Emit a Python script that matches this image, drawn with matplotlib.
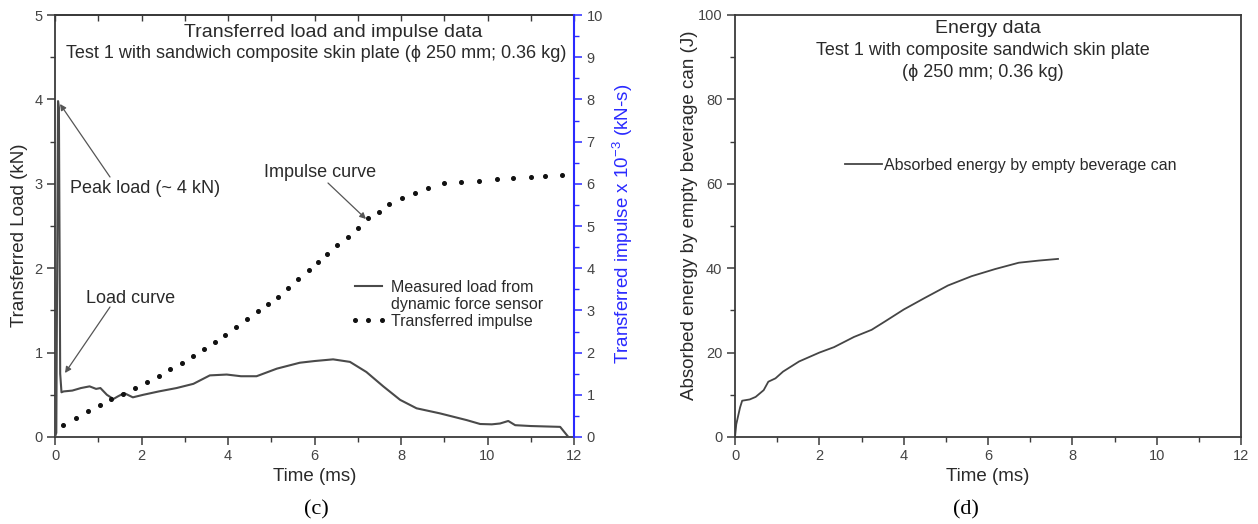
import matplotlib
matplotlib.use("Agg")
import matplotlib.pyplot as plt
from matplotlib.ticker import MultipleLocator
from matplotlib.lines import Line2D

# ---------------- data ----------------
load_t = [0, 0.03, 0.07, 0.09, 0.12, 0.15, 0.2, 0.4, 0.6, 0.8, 0.95, 1.05, 1.2, 1.35, 1.45,
          1.6, 1.8, 2.04, 2.4, 2.81, 3.2, 3.58, 3.97, 4.3, 4.66, 5.13, 5.66, 6.0, 6.43, 6.82,
          7.2, 7.59, 7.98, 8.36, 8.9, 9.52, 9.83, 10.1, 10.29, 10.48, 10.64, 11.0, 11.68, 11.87]
load_kN = [0, 0.05, 3.98, 3.9, 0.75, 0.53, 0.54, 0.55, 0.58, 0.6, 0.57, 0.58, 0.5, 0.45, 0.48,
           0.52, 0.47, 0.5, 0.54, 0.58, 0.63, 0.73, 0.74, 0.72, 0.72, 0.81, 0.88, 0.9, 0.92, 0.89,
           0.77, 0.6, 0.44, 0.34, 0.28, 0.2, 0.154, 0.15, 0.16, 0.19, 0.14, 0.13, 0.12, 0.0]

imp_t = [0.19, 0.49, 0.76, 1.03, 1.30, 1.57, 1.85, 2.12, 2.41, 2.66, 2.93, 3.20, 3.45, 3.70,
         3.93, 4.18, 4.43, 4.69, 4.93, 5.16, 5.39, 5.63, 5.87, 6.09, 6.30, 6.51, 6.78, 7.01,
         7.24, 7.48, 7.73, 8.02, 8.32, 8.63, 8.99, 9.38, 9.80, 10.21, 10.60, 11.00, 11.33, 11.72]
imp_val = [0.28, 0.46, 0.62, 0.77, 0.90, 1.03, 1.17, 1.31, 1.45, 1.60, 1.75, 1.92, 2.09, 2.26,
           2.42, 2.60, 2.80, 2.99, 3.15, 3.32, 3.52, 3.74, 3.96, 4.15, 4.34, 4.55, 4.75, 4.96,
           5.18, 5.34, 5.51, 5.66, 5.79, 5.91, 6.01, 6.05, 6.07, 6.11, 6.13, 6.17, 6.18, 6.20]

en_t = [0, 0.03, 0.07, 0.12, 0.17, 0.35, 0.49, 0.68, 0.79, 0.96, 1.14, 1.52, 2.0, 2.35, 2.82,
        3.24, 3.56, 4.0, 4.49, 5.05, 5.61, 6.17, 6.73, 7.2, 7.66]
en_J = [0, 3, 4.8, 7, 8.6, 8.9, 9.5, 11.1, 13.1, 13.9, 15.5, 17.9, 20, 21.3, 23.7,
        25.4, 27.4, 30.2, 32.9, 35.9, 38.1, 39.8, 41.3, 41.8, 42.2]

x_ticks = [0, 2, 4, 6, 8, 10, 12]
load_ticks = [0, 1, 2, 3, 4, 5]
imp_ticks = list(range(0, 11))
en_ticks = [0, 20, 40, 60, 80, 100]

# ---------------- style ----------------
plt.rcParams['font.family'] = ['Liberation Sans', 'DejaVu Sans']
plt.rcParams['mathtext.default'] = 'regular'
W, H = 1258, 524
fig = plt.figure(figsize=(W / 100, H / 100), dpi=100)
SP = '#3a3a3a'
TXT = '#2a2a2a'
TICKC = '#444444'
BLUE = '#2a2aff'
TS = 10.5
LS = 13.5

def px(x, y):
    return x / W, 1 - y / H

def style_axis(ax):
    for s in ax.spines.values():
        s.set_color(SP)
        s.set_linewidth(1.3)
    ax.tick_params(which='major', direction='out', length=6, width=1.1, color=SP,
                   labelsize=TS, labelcolor=TICKC, pad=3)
    ax.tick_params(which='minor', direction='out', length=3.5, width=1.0, color=SP)

# ---------------- panel (c) ----------------
ax1 = fig.add_axes([55 / W, 1 - 437 / H, 519 / W, 422 / H])
style_axis(ax1)
ax1.set_xlim(0, 12)
ax1.set_ylim(0, 5)
ax1.set_xticks(x_ticks)
ax1.set_yticks(load_ticks)
ax1.xaxis.set_minor_locator(MultipleLocator(1))
ax1.yaxis.set_minor_locator(MultipleLocator(0.5))
ln_load, = ax1.plot(load_t, load_kN, color='#4a4a4a', lw=1.5, zorder=3)

top = ax1.secondary_xaxis('top')
top.set_xticks(x_ticks)
top.xaxis.set_minor_locator(MultipleLocator(1))
top.tick_params(which='both', direction='in', length=4, width=1.0, color=SP, labeltop=False)
top.spines['top'].set_color(SP)
top.spines['top'].set_linewidth(1.3)

ax2 = ax1.twinx()
ax2.set_ylim(0, 10)
ax2.set_yticks(imp_ticks)
ax2.yaxis.set_minor_locator(MultipleLocator(0.5))
for s in ['left', 'top', 'bottom']:
    ax2.spines[s].set_visible(False)
ax2.spines['right'].set_color(BLUE)
ax2.spines['right'].set_linewidth(1.5)
ax2.tick_params(which='major', direction='out', length=6, width=1.1, color=BLUE,
                labelsize=TS, labelcolor=TICKC, pad=3)
ax2.tick_params(which='minor', direction='out', length=3.5, width=1.0, color=BLUE)
ln_imp, = ax2.plot(imp_t, imp_val, linestyle='none', marker='o', ms=2.6,
                   color='#111111', zorder=3)

ax1.set_xlabel('Time (ms)', fontsize=LS, color=TXT, labelpad=3)
fig.text(*px(20, 235), 'Transferred Load (kN)', rotation=90, ha='center', va='center',
         fontsize=LS, color=TXT)
fig.text(*px(623, 224), r'Transferred impulse x 10$^{-3}$ (kN-s)', rotation=90,
         ha='center', va='center', fontsize=LS, color=BLUE)

ax1.text((333 - 55) / 519, (437 - 32) / 422, 'Transferred load and impulse data',
         transform=ax1.transAxes, ha='center', va='center', fontsize=14, color=TXT)
ax1.text((316 - 55) / 519, (437 - 53) / 422,
         'Test 1 with sandwich composite skin plate (\u03d5 250 mm; 0.36 kg)',
         transform=ax1.transAxes, ha='center', va='center', fontsize=13, color=TXT)

def t1(x):
    return (x - 55) / 43.25

def l1(y):
    return (437 - y) / 84.4

arrow_kw = dict(arrowstyle='-|>', color='#555555', lw=0.9, mutation_scale=9,
                shrinkA=0, shrinkB=0)
ax1.text(t1(70), l1(188), 'Peak load (~ 4 kN)', ha='left', va='center', fontsize=13, color=TXT)
ax1.annotate('', xy=(t1(60), l1(104)), xytext=(t1(110), l1(177)), arrowprops=arrow_kw)
ax1.text(t1(264), l1(172), 'Impulse curve', ha='left', va='center', fontsize=13, color=TXT)
ax1.annotate('', xy=(t1(366), l1(219)), xytext=(t1(328), l1(183)), arrowprops=arrow_kw)
ax1.text(t1(86), l1(298), 'Load curve', ha='left', va='center', fontsize=13, color=TXT)
ax1.annotate('', xy=(t1(65), l1(373)), xytext=(t1(110), l1(307)), arrowprops=arrow_kw)

blank = Line2D([], [], linestyle='none')
leg1 = ax1.legend([ln_load, blank, ln_imp],
                  ['Measured load from', 'dynamic force sensor', 'Transferred impulse'],
                  loc='upper left', bbox_to_anchor=((350 - 55) / 519, (437 - 280) / 422),
                  frameon=False, fontsize=11.5, handlelength=2.3, handletextpad=0.25,
                  labelspacing=0.12, borderpad=0, borderaxespad=0, numpoints=3)
for t in leg1.get_texts():
    t.set_color(TXT)

fig.text(*px(316, 510), '(c)', ha='center', va='center', fontsize=16,
         family='Liberation Serif', color='black')

# ---------------- panel (d) ----------------
ax3 = fig.add_axes([735 / W, 1 - 437 / H, 506 / W, 422 / H])
style_axis(ax3)
ax3.set_xlim(0, 12)
ax3.set_ylim(0, 100)
ax3.set_xticks(x_ticks)
ax3.set_yticks(en_ticks)
ax3.xaxis.set_minor_locator(MultipleLocator(1))
ax3.yaxis.set_minor_locator(MultipleLocator(10))
ln_en, = ax3.plot(en_t, en_J, color='#454545', lw=1.3)
ax3.set_xlabel('Time (ms)', fontsize=LS, color=TXT, labelpad=3)
fig.text(*px(689, 215), 'Absorbed energy by empty beverage can (J)', rotation=90,
         ha='center', va='center', fontsize=LS, color=TXT)

ax3.text(0.5, (437 - 28) / 422, 'Energy data', transform=ax3.transAxes,
         ha='center', va='center', fontsize=14, color=TXT)
ax3.text(0.49, (437 - 50) / 422, 'Test 1 with composite sandwich skin plate',
         transform=ax3.transAxes, ha='center', va='center', fontsize=13, color=TXT)
ax3.text(0.49, (437 - 72) / 422, '(\u03d5 250 mm; 0.36 kg)',
         transform=ax3.transAxes, ha='center', va='center', fontsize=13, color=TXT)

leg2 = ax3.legend([ln_en], ['Absorbed energy by empty beverage can'],
                  loc='upper left', bbox_to_anchor=((845 - 735) / 506, (437 - 158) / 422),
                  frameon=False, fontsize=11.5, handlelength=2.3, handletextpad=0.15,
                  borderpad=0, borderaxespad=0)
for t in leg2.get_texts():
    t.set_color(TXT)

fig.text(*px(966, 510), '(d)', ha='center', va='center', fontsize=16,
         family='Liberation Serif', color='black')

fig.savefig('out.png', dpi=100)
